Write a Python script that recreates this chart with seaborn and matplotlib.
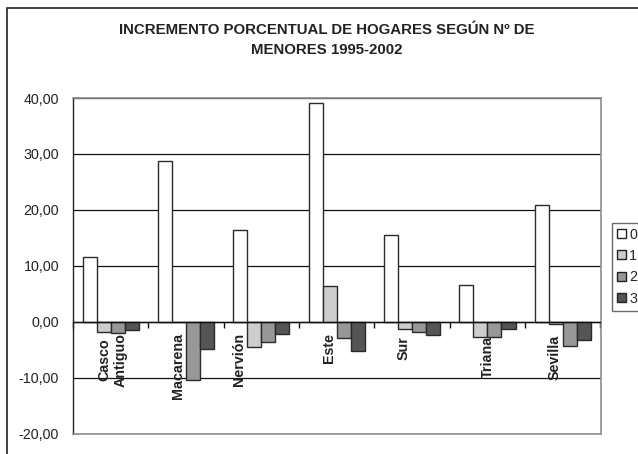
import matplotlib
matplotlib.use('Agg')
import matplotlib.pyplot as plt
import matplotlib.patches as mpatches
import matplotlib.transforms as mtransforms
import seaborn as sns
import pandas as pd

# Data
zonas = ['Casco\nAntiguo', 'Macarena', 'Nervión', 'Este', 'Sur', 'Triana', 'Sevilla']
grupos = ['0', '1', '2', '3']
menores_0 = [11.5, 28.7, 16.4, 39.1, 15.5, 6.5, 20.8]
menores_1 = [-1.8, -0.1, -4.5, 6.4, -1.3, -2.7, -0.5]
menores_2 = [-2.1, -10.5, -3.7, -3.0, -1.8, -2.7, -4.3]
menores_3 = [-1.5, -4.9, -2.2, -5.3, -2.4, -1.4, -3.2]
yticks = [-20, -10, 0, 10, 20, 30, 40]
ytick_labels = ['-20,00', '-10,00', '0,00', '10,00', '20,00', '30,00', '40,00']

series = [menores_0, menores_1, menores_2, menores_3]
rows = []
for g, vals in zip(grupos, series):
    for z, v in zip(zonas, vals):
        rows.append({'zona': z, 'grupo': g, 'valor': v})
df = pd.DataFrame(rows)

sns.set_style("white")
plt.rcParams['font.family'] = ['Liberation Sans', 'DejaVu Sans']

W, H = 638, 454
fig = plt.figure(figsize=(W / 100, H / 100), dpi=100)
ax = fig.add_axes([73 / W, 1 - 433.5 / H, (600.5 - 73) / W, (433.5 - 98) / H])

colors = ['#ffffff', '#cdcdcd', '#979797', '#555555']
sns.barplot(data=df, x='zona', y='valor', hue='grupo', palette=colors,
            width=0.745, edgecolor='#2a2a2a', linewidth=1.0, ax=ax,
            legend=False, zorder=3)

ax.set_xlim(-0.5, len(zonas) - 0.5)
ax.set_ylim(-20, 40)
ax.set_yticks(yticks)
ax.set_yticklabels(ytick_labels, fontsize=10.3, color='#222222')
ax.tick_params(axis='y', length=0, pad=10)
ax.set_xlabel('')
ax.set_ylabel('')

# horizontal gridlines
ax.yaxis.grid(True, color='#111111', linewidth=0.9, zorder=0)
ax.set_axisbelow(True)

# category axis sits on the zero line
ax.spines['bottom'].set_position(('data', 0))
ax.spines['bottom'].set_color('#111111')
ax.spines['bottom'].set_linewidth(1.0)
ax.spines['bottom'].set_zorder(4)
ax.spines['left'].set_color('#222222')
ax.spines['left'].set_linewidth(1.0)
for s in ['top', 'right']:
    ax.spines[s].set_color('#8c8c8c')
    ax.spines[s].set_linewidth(1.2)
ax.axhline(-20, color='#8c8c8c', linewidth=1.2, clip_on=False, zorder=5)

bounds = [i - 0.5 for i in range(len(zonas) + 1)]
ax.set_xticks(bounds)
ax.set_xticklabels([''] * len(bounds))
ax.tick_params(axis='x', which='major', direction='out', length=4,
               width=1, color='#111111', bottom=True)

# rotated category labels below the zero line (Excel places them a bit unevenly)
label_dx = [2, -8.5, -22.5, -7.5, -8.5, 0, -8]   # pixels
label_dy = [-11, -11, -11, -11, -14, -14, -13]  # pixels
for i, (z, dx, dy) in enumerate(zip(zonas, label_dx, label_dy)):
    tr = ax.transData + mtransforms.ScaledTranslation(dx / 100, dy / 100,
                                                      fig.dpi_scale_trans)
    ax.text(i, 0, z, transform=tr, rotation=90, fontsize=10.3,
            fontweight='bold', color='#222222', ha='center', va='top',
            multialignment='center', linespacing=1.15, clip_on=False,
            zorder=6)

# legend, partly cut by the right edge as in the original
handles = [mpatches.Patch(facecolor=c, edgecolor='#222222', linewidth=1.0)
           for c in colors]
fig.legend(handles, grupos, loc='upper left',
           bbox_to_anchor=(612 / W, 1 - 222.5 / H), fontsize=10.3,
           frameon=True, fancybox=False, edgecolor='#444444',
           handlelength=0.6, handleheight=0.6, handletextpad=0.25,
           labelspacing=0.52, borderpad=0.35, borderaxespad=0)

# title
fig.text(327 / W, 1 - 40 / H,
         'INCREMENTO PORCENTUAL DE HOGARES SEGÚN Nº DE\nMENORES 1995-2002',
         ha='center', va='center', fontsize=10.8, fontweight='bold',
         color='#222222', linespacing=1.5)

# chart frame
fig.patches.append(mpatches.Rectangle((7 / W, -0.1), 1.2, 1.1 - 8 / H,
                                      transform=fig.transFigure, fill=False,
                                      edgecolor='#222222', linewidth=1.2))

fig.savefig('out.png', dpi=100)
